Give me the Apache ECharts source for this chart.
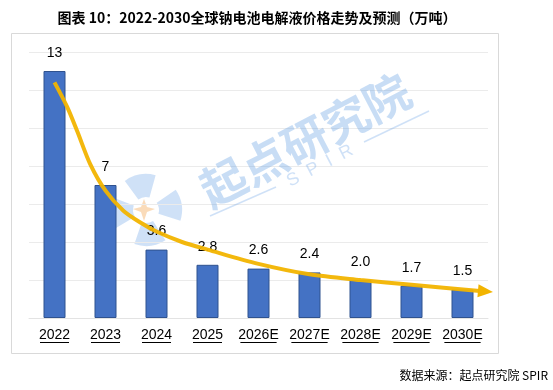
<!DOCTYPE html>
<html>
<head>
<meta charset="utf-8">
<script src="https://cdn.jsdelivr.net/npm/echarts@6/dist/echarts.min.js"></script>
<style>
html,body{margin:0;padding:0;background:#fff;}
#main{width:553px;height:390px;}
</style>
</head>
<body>
<div id="main"></div>
<script>
const titleText = '图表 10：2022-2030全球钠电池电解液价格走势及预测（万吨）';
const sourceText = '数据来源：起点研究院 SPIR';
const categories = ['2022','2023','2024','2025','2026E','2027E','2028E','2029E','2030E'];
const values = [13, 7, 3.6, 2.8, 2.6, 2.4, 2.0, 1.7, 1.5];
const valueLabels = ['13', '7', '3.6', '2.8', '2.6', '2.4', '2.0', '1.7', '1.5'];
const trendX = [0, 0.25, 0.45, 0.7, 1, 1.35, 1.7, 2, 2.5, 3, 4, 5, 6, 7, 8.45];
const trendY = [12.4, 11.1, 9.8, 8.1, 6.7, 5.65, 5.0, 4.55, 4.0, 3.6, 2.85, 2.3, 2.0, 1.75, 1.4];
const yMin = 0, yMax = 14, yStep = 2;

const chart = echarts.init(document.getElementById('main'), null, {renderer:'canvas'});
const FONT = '"Liberation Sans", "Noto Sans CJK SC", sans-serif';

const trendData = trendX.map((x, i) => {
  const item = { value: [x, trendY[i]] };
  if (i === trendX.length - 1) {
    item.symbol = 'triangle';
    item.symbolSize = [13, 15];
    item.symbolRotate = -95;
    item.itemStyle = { color: '#F2B400', opacity: 1 };
  }
  return item;
});

const WM = 'rgba(110,165,230,0.33)';
const option = {
  backgroundColor: '#ffffff',
  animation: false,
  title: {
    text: titleText,
    left: 252, top: 6, textAlign: 'center',
    textStyle: { fontFamily: '"Noto Sans CJK SC", sans-serif', fontSize: 14, fontWeight: 'bold', color: '#000' }
  },
  graphic: [
    { type: 'rect', z: -10, shape: { x: 11.5, y: 33.5, width: 487, height: 320 }, style: { fill: 'none', stroke: '#D9D9D9', lineWidth: 1 } },
    { type: 'text', right: 5, top: 369, style: { text: sourceText, font: '12px "Noto Sans CJK SC", sans-serif', fill: '#000' } },
    { type: 'group', x: 146, y: 210, z: 1, children: [
      { type: 'sector', shape: { cx: 0, cy: 0, r0: 13, r: 36, startAngle: -2.2, endAngle: -1.3 }, style: { fill: WM } },
      { type: 'sector', shape: { cx: 0, cy: 0, r0: 13, r: 36, startAngle: -0.6, endAngle: 0.3 }, style: { fill: WM } },
      { type: 'sector', shape: { cx: 0, cy: 0, r0: 13, r: 36, startAngle: 1.0, endAngle: 1.9 }, style: { fill: WM } },
      { type: 'sector', shape: { cx: 0, cy: 0, r0: 13, r: 36, startAngle: 2.6, endAngle: 3.5 }, style: { fill: WM } },
      { type: 'polygon', shape: { points: [[-2,-11],[1,-3],[9,-1],[1,2],[-2,11],[-5,2],[-13,-1],[-5,-3]] }, style: { fill: 'rgba(245,175,100,0.45)' } }
    ]},
    { type: 'text', x: 305, y: 140, rotation: 27.5 * Math.PI / 180, z: 1,
      style: { text: '起点研究院', font: 'bold 46px "Noto Sans CJK SC", sans-serif', fill: 'rgba(110,165,230,0.38)', align: 'center', verticalAlign: 'middle' } },
    { type: 'text', x: 320, y: 166, rotation: 27.5 * Math.PI / 180, z: 1,
      style: { text: 'S  P  I  R', font: '18px "Liberation Sans", sans-serif', fill: WM, align: 'center', verticalAlign: 'middle' } },
    { type: 'line', z: 1, shape: { x1: 210, y1: 216, x2: 276, y2: 187 }, style: { stroke: WM, lineWidth: 1.5 } },
    { type: 'line', z: 1, shape: { x1: 364, y1: 142, x2: 429, y2: 111 }, style: { stroke: WM, lineWidth: 1.5 } }
  ],
  grid: { left: 29, right: 65, top: 52, bottom: 72, containLabel: false },
  xAxis: [
    {
      type: 'category', data: categories,
      axisLine: { show: true, lineStyle: { color: '#E3E3E3' } },
      axisTick: { show: false },
      axisLabel: { interval: 0, fontFamily: FONT, fontSize: 14, color: '#000', margin: 10 }
    },
    { type: 'value', min: -0.5, max: 8.5, show: false }
  ],
  yAxis: {
    type: 'value', min: yMin, max: yMax, interval: yStep,
    axisLabel: { show: false }, axisLine: { show: false }, axisTick: { show: false },
    splitLine: { lineStyle: { color: '#EBEBEB', width: 1 } }
  },
  series: [
    {
      type: 'bar', data: values, barWidth: 22, z: 2,
      itemStyle: { color: '#4472C4', borderColor: '#2F528F', borderWidth: 1 },
      label: { show: true, position: 'top', distance: 11, fontFamily: FONT, fontSize: 14, color: '#000',
        formatter: p => valueLabels[p.dataIndex] }
    },
    {
      type: 'line', xAxisIndex: 1, data: trendData, smooth: 0.3, z: 5,
      symbol: 'none', showSymbol: true,
      lineStyle: { color: '#F2B400', width: 4, opacity: 0.95 },
      itemStyle: { color: '#F2B400' }
    },
    {
      type: 'custom', xAxisIndex: 0, z: 3, clip: false, silent: true,
      data: categories.map((c, i) => [i, 0]),
      renderItem: function (params, api) {
        const idx = api.value(0);
        const pt = api.coord([idx, 0]);
        const w = categories[idx].length * 7.25;
        const y = Math.round(pt[1] + 24) + 0.5;
        return { type: 'line', shape: { x1: pt[0] - w / 2, y1: y, x2: pt[0] + w / 2, y2: y },
          style: { stroke: '#000', lineWidth: 1 } };
      }
    }
  ]
};
chart.setOption(option);
</script>
</body>
</html>
